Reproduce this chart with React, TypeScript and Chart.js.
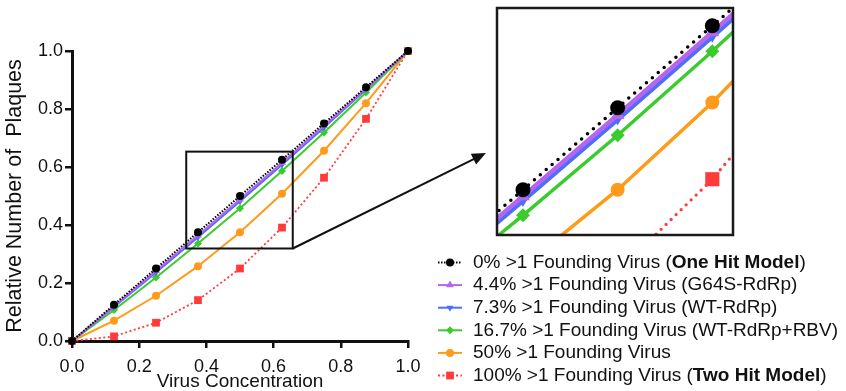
import React, { useEffect, useRef } from 'react';
import { Chart, registerables } from 'chart.js';

Chart.register(...registerables);

// ---- data ----
const X_VALUES = [0, 0.125, 0.25, 0.375, 0.5, 0.625, 0.75, 0.875, 1];
const ONE_HIT = [0, 0.125, 0.25, 0.375, 0.5, 0.625, 0.75, 0.875, 1];
const G64S_RDRP = [0, 0.12, 0.242, 0.365, 0.489, 0.615, 0.742, 0.87, 1];
const WT_RDRP = [0, 0.117, 0.236, 0.358, 0.482, 0.608, 0.736, 0.867, 1];
const WT_RDRP_RBV = [0, 0.107, 0.219, 0.336, 0.458, 0.586, 0.719, 0.857, 1];
const FIFTY_PCT = [0, 0.07, 0.156, 0.258, 0.375, 0.508, 0.656, 0.82, 1];
const TWO_HIT = [0, 0.016, 0.063, 0.141, 0.25, 0.391, 0.563, 0.766, 1];

const SERIES = [ONE_HIT, G64S_RDRP, WT_RDRP, WT_RDRP_RBV, FIFTY_PCT, TWO_HIT];
const SERIES_LABELS = [
  '0% >1 Founding Virus (**One Hit Model**)',
  '4.4% >1 Founding Virus (G64S-RdRp)',
  '7.3% >1 Founding Virus (WT-RdRp)',
  '16.7% >1 Founding Virus (WT-RdRp+RBV)',
  '50% >1 Founding Virus',
  '100% >1 Founding Virus (**Two Hit Model**)',
];
const TICK_VALUES = [0, 0.2, 0.4, 0.6, 0.8, 1.0];
const X_TITLE = 'Virus Concentration';
const Y_TITLE = 'Relative Number of  Plaques';

// zoom window (main chart box) and inset ranges
const ZOOM_X = [0.34, 0.657];
const ZOOM_Y = [0.319, 0.653];
const INSET_X = [0.3407, 0.6523];
const INSET_Y = [0.306, 0.652];

// ---- styles ----
const FONT = "'Liberation Sans', Arial, Helvetica, sans-serif";
type Style = {
  color: string; dash: number[]; insetDash: number[]; point: string; rot: number;
  r: number; R: number; w: number; W: number;
};
const STYLES: Style[] = [
  { color: '#000000', dash: [1.5, 1.5], insetDash: [0, 7.8], point: 'circle', rot: 0, r: 4, R: 7.5, w: 2, W: 3.5 },
  { color: '#B466F0', dash: [], insetDash: [], point: 'triangle', rot: 0, r: 4.5, R: 8, w: 2, W: 4.5 },
  { color: '#4D6EF5', dash: [], insetDash: [], point: 'triangle', rot: 180, r: 4, R: 6, w: 2, W: 4.5 },
  { color: '#3ACC2C', dash: [], insetDash: [], point: 'rectRot', rot: 0, r: 4, R: 7, w: 2, W: 3.5 },
  { color: '#FF9A1A', dash: [], insetDash: [], point: 'circle', rot: 0, r: 4, R: 7, w: 2, W: 3.5 },
  { color: '#FF3B3B', dash: [2, 2.5], insetDash: [0, 7], point: 'rect', rot: 0, r: 5.5, R: 10, w: 1.8, W: 3.3 },
];

function drawMarker(ctx: CanvasRenderingContext2D, s: Style, x: number, y: number, r: number) {
  ctx.save();
  ctx.fillStyle = s.color;
  ctx.setLineDash([]);
  ctx.beginPath();
  let rad = (s.rot * Math.PI) / 180;
  if (s.point === 'circle') {
    ctx.arc(x, y, r, 0, Math.PI * 2);
  } else if (s.point === 'triangle') {
    ctx.moveTo(x + Math.sin(rad) * r, y - Math.cos(rad) * r);
    rad += (2 * Math.PI) / 3;
    ctx.lineTo(x + Math.sin(rad) * r, y - Math.cos(rad) * r);
    rad += (2 * Math.PI) / 3;
    ctx.lineTo(x + Math.sin(rad) * r, y - Math.cos(rad) * r);
  } else if (s.point === 'rectRot') {
    ctx.moveTo(x, y - r);
    ctx.lineTo(x + r, y);
    ctx.lineTo(x, y + r);
    ctx.lineTo(x - r, y);
  } else {
    const h = r * Math.SQRT1_2;
    ctx.rect(x - h, y - h, 2 * h, 2 * h);
  }
  ctx.closePath();
  ctx.fill();
  ctx.restore();
}

const overlayPlugin = {
  id: 'overlay',
  afterDraw(chart: any) {
    const ctx: CanvasRenderingContext2D = chart.ctx;
    const xs = chart.scales.x;
    const ys = chart.scales.y;
    // zoom box
    const bx1 = xs.getPixelForValue(ZOOM_X[0]);
    const bx2 = xs.getPixelForValue(ZOOM_X[1]);
    const by1 = ys.getPixelForValue(ZOOM_Y[1]);
    const by2 = ys.getPixelForValue(ZOOM_Y[0]);
    ctx.save();
    ctx.strokeStyle = '#111';
    ctx.lineWidth = 2;
    ctx.setLineDash([]);
    ctx.strokeRect(bx1, by1, bx2 - bx1, by2 - by1);
    // arrow
    const tipX = 486, tipY = 153;
    const ang = Math.atan2(tipY - by2, tipX - bx2);
    const len = 14, half = 6;
    const baseX = tipX - Math.cos(ang) * len;
    const baseY = tipY - Math.sin(ang) * len;
    ctx.lineWidth = 2;
    ctx.beginPath();
    ctx.moveTo(bx2, by2);
    ctx.lineTo(baseX + Math.cos(ang) * 2, baseY + Math.sin(ang) * 2);
    ctx.stroke();
    ctx.fillStyle = '#111';
    ctx.beginPath();
    ctx.moveTo(tipX, tipY);
    ctx.lineTo(baseX - Math.sin(ang) * half, baseY + Math.cos(ang) * half);
    ctx.lineTo(baseX + Math.sin(ang) * half, baseY - Math.cos(ang) * half);
    ctx.closePath();
    ctx.fill();
    // legend
    const lx1 = 438, lx2 = 462, lmx = 450, tx = 473;
    SERIES_LABELS.forEach((label, i) => {
      const s = STYLES[i];
      const y = 262.5 + i * 22.6;
      ctx.save();
      ctx.strokeStyle = s.color;
      ctx.lineWidth = s.w;
      ctx.setLineDash(s.dash);
      ctx.beginPath();
      ctx.moveTo(lx1, y);
      ctx.lineTo(lx2, y);
      ctx.stroke();
      ctx.restore();
      drawMarker(ctx, s, lmx, y, s.r);
      ctx.fillStyle = '#111';
      ctx.textBaseline = 'middle';
      ctx.textAlign = 'left';
      let cx = tx;
      label.split('**').forEach((seg, k) => {
        ctx.font = `${k % 2 === 1 ? 'bold ' : ''}19px ${FONT}`;
        ctx.fillText(seg, cx, y);
        cx += ctx.measureText(seg).width;
      });
    });
    ctx.restore();
  },
};

const insetBorderPlugin = {
  id: 'insetBorder',
  afterDraw(chart: any) {
    const { ctx, chartArea } = chart;
    ctx.save();
    ctx.strokeStyle = '#1a1a1a';
    ctx.lineWidth = 2.5;
    ctx.setLineDash([]);
    ctx.strokeRect(chartArea.left, chartArea.top, chartArea.right - chartArea.left, chartArea.bottom - chartArea.top);
    ctx.restore();
  },
};

const pointsOf = (ys: number[]) => X_VALUES.map((x, i) => ({ x, y: ys[i] }));

export default function App() {
  const mainRef = useRef<HTMLCanvasElement>(null);
  const insetRef = useRef<HTMLCanvasElement>(null);

  useEffect(() => {
    Chart.defaults.font.family = FONT;
    Chart.defaults.color = '#111';

    const mainDatasets = SERIES.map((ys, i) => {
      const s = STYLES[i];
      return {
        label: SERIES_LABELS[i].replace(/\*\*/g, ''),
        data: pointsOf(ys),
        borderColor: s.color,
        backgroundColor: s.color,
        borderWidth: s.w,
        borderDash: s.dash,
        pointStyle: s.point,
        pointRotation: s.rot,
        pointRadius: s.r,
        pointBorderWidth: 0,
        pointBackgroundColor: s.color,
        tension: 0,
        clip: false as any,
      };
    });

    const axisCommon = (isX: boolean) => ({
      type: 'linear' as const,
      min: 0,
      max: 1,
      afterBuildTicks: (sc: any) => {
        sc.ticks = TICK_VALUES.map((v) => ({ value: v }));
      },
      afterFit: (sc: any) => {
        if (isX) sc.height = 50;
        else sc.width = 72;
      },
      ticks: {
        callback: (v: any) => Number(v).toFixed(1),
        font: { size: 18 },
        color: '#111',
        padding: isX ? 8 : 2,
        maxRotation: 0,
        autoSkip: false,
      },
      grid: {
        display: true,
        drawOnChartArea: false,
        drawTicks: true,
        tickLength: 7,
        color: '#111',
        lineWidth: 2.5,
      },
      border: { display: true, color: '#111', width: 3 },
      title: {
        display: true,
        text: isX ? X_TITLE : Y_TITLE,
        font: { size: isX ? 19 : 21.5 },
        color: '#111',
        padding: isX ? { top: 0, bottom: -2 } : { top: 2.5, bottom: 0 },
      },
    });

    const main = new Chart(mainRef.current!, {
      type: 'line',
      data: { datasets: mainDatasets as any },
      options: {
        animation: false,
        responsive: false,
        maintainAspectRatio: false,
        layout: { padding: { left: 0, top: 51, right: 438, bottom: 0 }, autoPadding: false },
        plugins: { legend: { display: false }, tooltip: { enabled: false } },
        scales: { x: axisCommon(true) as any, y: axisCommon(false) as any },
      },
      plugins: [overlayPlugin],
    });

    const insetDatasets = SERIES.map((ys, i) => {
      const s = STYLES[i];
      const dotted = s.insetDash.length > 0;
      return {
        label: SERIES_LABELS[i].replace(/\*\*/g, ''),
        data: pointsOf(ys),
        borderColor: s.color,
        backgroundColor: s.color,
        borderWidth: s.W,
        borderDash: s.insetDash,
        borderCapStyle: dotted ? 'round' : 'butt',
        pointStyle: s.point,
        pointRotation: s.rot,
        pointRadius: s.R,
        pointBorderWidth: 0,
        pointBackgroundColor: s.color,
        tension: 0,
        clip: 0,
      };
    });

    const inset = new Chart(insetRef.current!, {
      type: 'line',
      data: { datasets: insetDatasets as any },
      options: {
        animation: false,
        responsive: false,
        maintainAspectRatio: false,
        layout: { padding: 3, autoPadding: false },
        plugins: { legend: { display: false }, tooltip: { enabled: false } },
        scales: {
          x: { type: 'linear', display: false, min: INSET_X[0], max: INSET_X[1] },
          y: { type: 'linear', display: false, min: INSET_Y[0], max: INSET_Y[1] },
        },
      },
      plugins: [insetBorderPlugin],
    });

    return () => {
      main.destroy();
      inset.destroy();
    };
  }, []);

  return (
    <div style={{ position: 'absolute', left: 0, top: 0, width: 846, height: 391, background: '#fff', overflow: 'hidden' }}>
      <canvas ref={mainRef} width={846} height={391} style={{ position: 'absolute', left: 0, top: 0, width: 846, height: 391 }} />
      <canvas ref={insetRef} width={242} height={233} style={{ position: 'absolute', left: 494, top: 5, width: 242, height: 233 }} />
    </div>
  );
}
